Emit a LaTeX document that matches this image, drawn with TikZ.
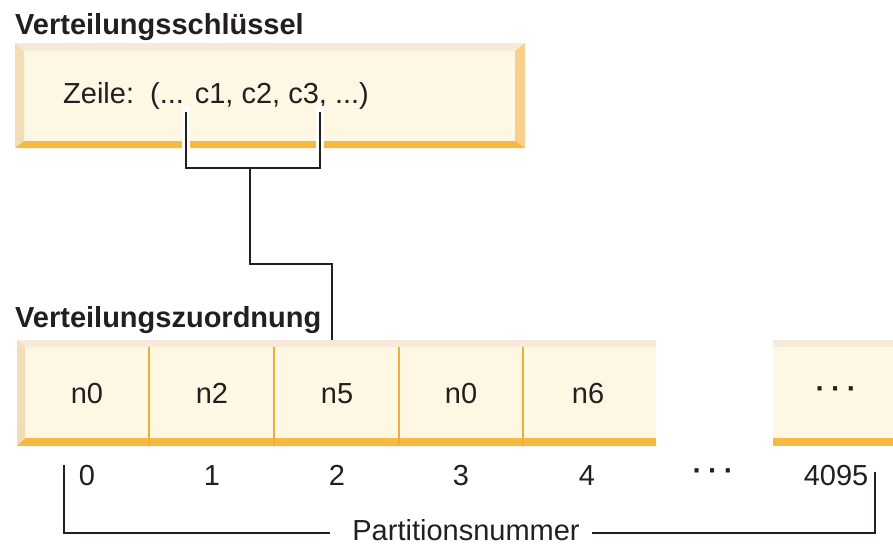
\documentclass[tikz,border=0pt]{standalone}
\usepackage{fontspec}
\setmainfont{Liberation Sans}
\usetikzlibrary{calc}
\definecolor{cream}{HTML}{FEF7E3}
\definecolor{topband}{HTML}{F6EBD9}
\definecolor{leftbevel}{HTML}{F3DDB6}
\definecolor{rightbevel}{HTML}{F8D08C}
\definecolor{orangeband}{HTML}{F7B941}
\definecolor{divider}{HTML}{EFAE3A}
\definecolor{ink}{HTML}{231F20}
\begin{document}
\begin{tikzpicture}[x=1pt,y=-1pt,
  txt/.style={font=\fontsize{29}{33}\selectfont, text=ink, inner sep=0pt},
  head/.style={font=\fontsize{29}{33}\selectfont\bfseries, text=ink, inner sep=0pt},
  dotsty/.style={font=\fontsize{29}{33}\selectfont\bfseries, text=ink, inner sep=0pt},
  wire/.style={draw=ink, line width=1.8pt},
  halo/.style={draw=white, line width=8pt},
  celldiv/.style={draw=divider, line width=1.6pt}]
\useasboundingbox (0,0) rectangle (893,546);

% ---- Verteilungsschluessel box
\fill[cream] (15,43) rectangle (525,148);
\fill[topband] (15,43) -- (525,43) -- (515,51) -- (24,51) -- cycle;
\fill[leftbevel] (15,43) -- (24,51) -- (24,141) -- (15,148) -- cycle;
\fill[rightbevel] (525,43) -- (515,51) -- (515,141) -- (525,148) -- cycle;
\fill[orangeband] (15,148) -- (24,141) -- (515,141) -- (525,148) -- cycle;

\node[head, anchor=base west] (h1) at (15,34) {Verteilungsschlüssel};
\node[txt, anchor=base west] (row) at (63,103) {Zeile:\ \ (... c1, c2, c3, ...)};

% ---- Verteilungszuordnung map
\fill[cream] (17,340) rectangle (656,446);
\fill[topband] (17,340) -- (656,340) -- (656,347) -- (25,347) -- cycle;
\fill[leftbevel] (17,340) -- (25,347) -- (25,438) -- (17,446) -- cycle;
\fill[orangeband] (17,446) -- (25,438) -- (656,438) -- (656,446) -- cycle;
\foreach \x in {149,274,399,523} \draw[celldiv] (\x,347) -- (\x,446);

\fill[cream] (773,340) rectangle (893,446);
\fill[topband] (773,340) rectangle (893,347);
\fill[orangeband] (773,438) rectangle (893,446);

\node[head, anchor=base west] (h2) at (15,327) {Verteilungszuordnung};

\node[txt, anchor=base] (m0) at (87,403) {n0};
\node[txt, anchor=base] (m1) at (212,403) {n2};
\node[txt, anchor=base] (m2) at (337,403) {n5};
\node[txt, anchor=base] (m3) at (461,403) {n0};
\node[txt, anchor=base] (m4) at (588,403) {n6};
\node[dotsty, anchor=base] (mdots) at (836,398) {·\hspace{6pt}·\hspace{6pt}·};

% ---- partition numbers
\node[txt, anchor=base] (p0) at (87,485) {0};
\node[txt, anchor=base] (p1) at (212,485) {1};
\node[txt, anchor=base] (p2) at (337,485) {2};
\node[txt, anchor=base] (p3) at (461,485) {3};
\node[txt, anchor=base] (p4) at (587,485) {4};
\node[dotsty, anchor=base] (pdots) at (713,480) {·\hspace{6pt}·\hspace{6pt}·};
\node[txt, anchor=base] (p4095) at (836,485) {4095};
\node[txt, anchor=base] (part) at (466,540) {Partitionsnummer};

% ---- key bracket
\coordinate (ka) at (186,112);
\coordinate (kb) at (320,112);
\coordinate (kaB) at (186,168);
\coordinate (kbB) at (320,168);
\coordinate (kmid) at (250,168);
\coordinate (kbend) at (250,264);
\coordinate (kbend2) at (332,264);
\coordinate (maptop) at (332,340);
\draw[halo] (186,106) -- (186,150);
\draw[halo] (320,106) -- (320,150);
\draw[wire] (ka) -- (kaB) -- (kbB) -- (kb);
\draw[wire] (kmid) -- (kbend) -- (kbend2) -- (maptop);

% ---- partition bracket
\coordinate (la) at (64,465);
\coordinate (lb) at (64,533);
\coordinate (ra) at (875,472);
\coordinate (rb) at (875,533);
\draw[wire] (la) -- (lb) -- ($(lb -| part.west)+(-22,0)$);
\draw[wire] ($(rb -| part.east)+(12,0)$) -- (rb) -- (ra);
\end{tikzpicture}
\end{document}
